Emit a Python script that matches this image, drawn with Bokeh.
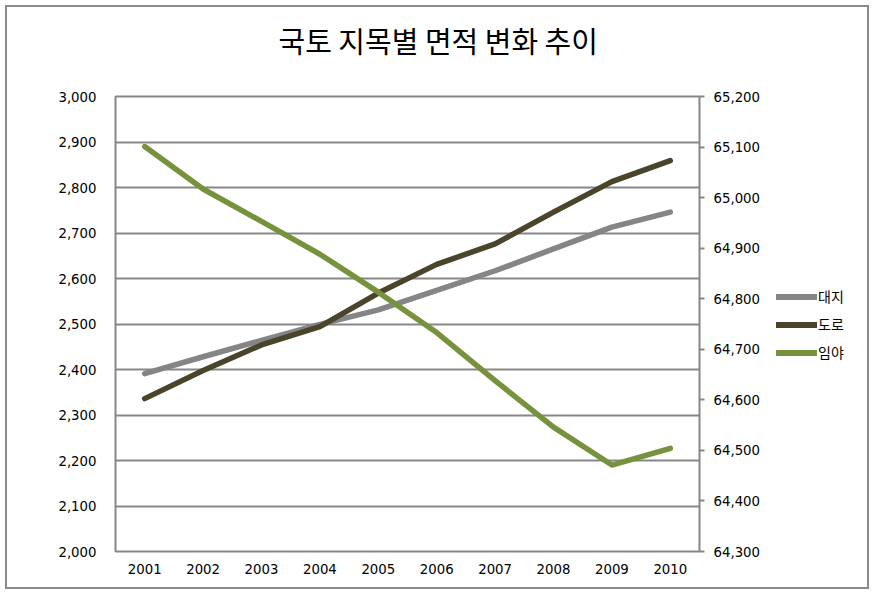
from bokeh.plotting import figure
from bokeh.layouts import row
from bokeh.models import (Range1d, LinearAxis, SingleIntervalTicker, NumeralTickFormatter,
                          Legend, LegendItem, FactorRange, InlineStyleSheet, Title)
from bokeh.embed import file_html
from bokeh.resources import INLINE

years = ["2001", "2002", "2003", "2004", "2005", "2006", "2007", "2008", "2009", "2010"]
daeji = [2391, 2428, 2464, 2499, 2531, 2574, 2617, 2665, 2713, 2746]
doro = [2336, 2398, 2454, 2494, 2568, 2631, 2676, 2746, 2813, 2859]
imya = [65101, 65017, 64953, 64888, 64813, 64733, 64638, 64546, 64471, 64504]

title_text = "국토 지목별 면적 변화 추이"
names = ["대지", "도로", "임야"]
colors = ["#858585", "#4a452a", "#76923c"]

RIGHT = 64
LEG_W = 877 - (115 + 584 + RIGHT)

p = figure(frame_width=584, frame_height=455, x_range=FactorRange(*years), y_range=Range1d(2000, 3000),
           output_backend="svg", toolbar_location=None,
           min_border_left=115, min_border_right=RIGHT, min_border_top=95, min_border_bottom=42)

p.title.text = title_text
p.title.align = "left"
p.title.offset = 163
p.title.vertical_align = "top"
p.title.text_font = "Noto Sans CJK KR"
p.title.text_font_size = "29px"
p.title.text_font_style = "normal"
p.title.text_color = "#000000"
p.title.standoff = 36

# thin spacer between the title and the plot area
p.add_layout(Title(text=" ", text_font_size="1px", standoff=13), "above")

p.extra_y_ranges = {"right": Range1d(64300, 65200)}

grid_col = "#878787"
p.outline_line_color = grid_col
p.outline_line_width = 2
p.xgrid.grid_line_color = None
p.ygrid.grid_line_color = grid_col
p.ygrid.grid_line_width = 2

font = "DejaVu Sans"
fs = "13.3px"

ax = p.xaxis[0]
ax.axis_line_color = None
ax.major_tick_line_color = None
ax.major_tick_out = 0
ax.major_label_standoff = 12
ax.major_label_text_font = font
ax.major_label_text_font_size = fs
ax.major_label_text_color = "#000000"

ly = p.yaxis[0]
ly.ticker = SingleIntervalTicker(interval=100)
ly.formatter = NumeralTickFormatter(format="0,0")
ly.axis_line_color = None
ly.major_tick_line_color = None
ly.minor_tick_line_color = None
ly.major_tick_out = 0
ly.major_label_standoff = 15
ly.major_label_text_font = font
ly.major_label_text_font_size = fs
ly.major_label_text_color = "#000000"
p.ygrid.ticker = SingleIntervalTicker(interval=100)

ry = LinearAxis(y_range_name="right", ticker=SingleIntervalTicker(interval=100),
                formatter=NumeralTickFormatter(format="0,0"))
ry.axis_line_color = None
ry.major_tick_line_color = grid_col
ry.major_tick_line_width = 2
ry.major_tick_in = 0
ry.major_tick_out = 5
ry.minor_tick_line_color = None
ry.major_label_standoff = 9
ry.major_label_text_font = font
ry.major_label_text_font_size = fs
ry.major_label_text_color = "#000000"
p.add_layout(ry, "right")

lw = 5.5
p.line(years, daeji, line_color=colors[0], line_width=lw, line_cap="round", line_join="round")
p.line(years, doro, line_color=colors[1], line_width=lw, line_cap="round", line_join="round")
p.line(years, imya, line_color=colors[2], line_width=lw, line_cap="round", line_join="round",
       y_range_name="right")

# legend panel (separate small figure to the right); key renderers lie outside its view
q = figure(width=LEG_W, height=592, x_range=Range1d(0, 1), y_range=Range1d(0, 1),
           output_backend="svg", toolbar_location=None, x_axis_type=None, y_axis_type=None,
           min_border=0)
q.outline_line_color = None
q.xgrid.grid_line_color = None
q.ygrid.grid_line_color = None
keys = [q.line([0, 1], [-5, -5], line_color=c, line_width=6, line_cap="round") for c in colors]

legend = Legend(items=[LegendItem(label=n, renderers=[k]) for n, k in zip(names, keys)],
                location=(13, 188), orientation="vertical")
legend.border_line_color = None
legend.background_fill_alpha = 0
legend.glyph_width = 41
legend.glyph_height = 19
legend.label_height = 19
legend.spacing = 8
legend.label_standoff = 1
legend.padding = 0
legend.margin = 0
legend.label_text_font = "Noto Sans CJK KR"
legend.label_text_font_size = "14px"
legend.label_text_color = "#000000"
q.add_layout(legend, "center")

frame_css = InlineStyleSheet(css=""":host::after { content: ""; position: absolute; left: 5px; top: 5px;
 width: 860px; height: 580px; border: 2px solid #8a8a8a; pointer-events: none; box-sizing: content-box; }""")
layout = row(p, q, spacing=0, stylesheets=[frame_css])

open("out.html", "w").write(file_html(layout, INLINE))
